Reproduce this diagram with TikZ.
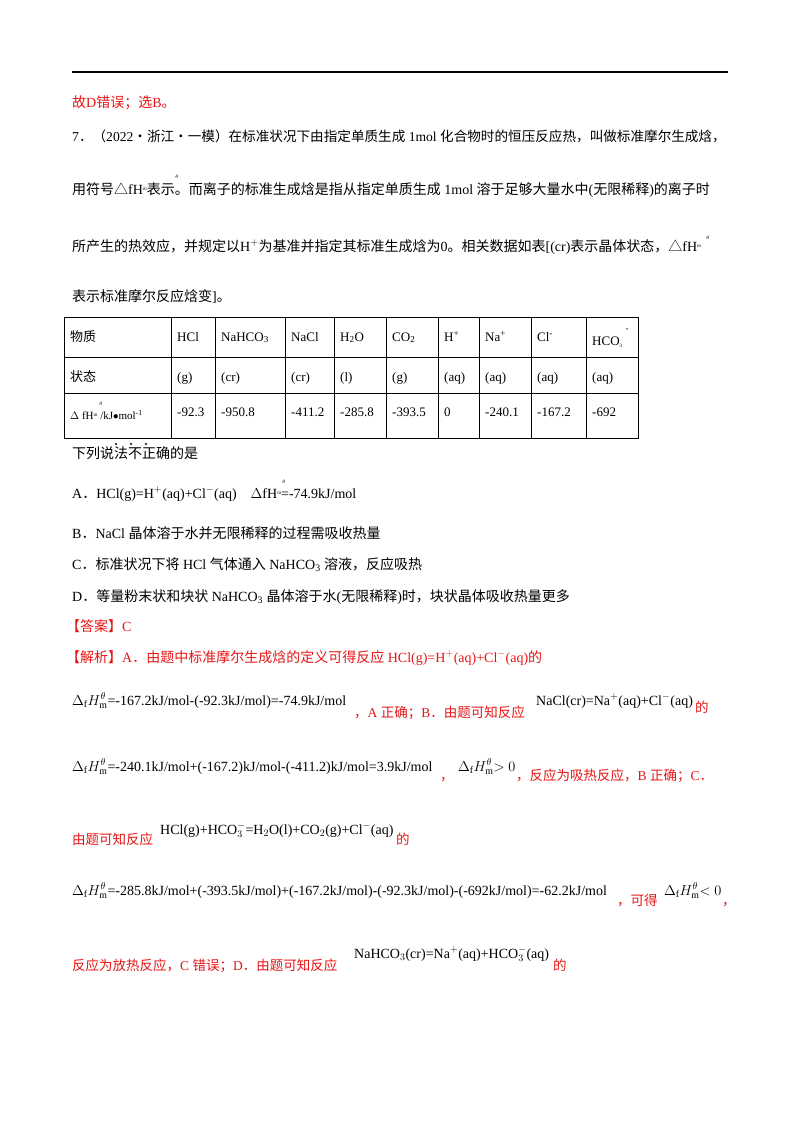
\documentclass[tikz,border=0pt]{standalone}
\usepackage{fontspec}
\setmainfont{Liberation Serif}
\newfontfamily\cjk{Noto Sans CJK SC}
\newcommand\zh[1]{{\cjk #1}}
\definecolor{ansred}{RGB}{232,20,20}
\tikzset{txt/.style={anchor=base west,inner sep=0pt,font=\fontsize{14}{16}\selectfont},
 red/.style={txt,text=ansred},
 redf/.style={txt,text=ansred,font=\fontsize{13.5}{15}\selectfont},
 fml/.style={anchor=base west,inner sep=0pt,font=\fontsize{14}{16}\selectfont},
 cell/.style={anchor=base west,inner sep=0pt,font=\fontsize{13}{15}\selectfont}}
\newcommand\dH{$\Delta_{\mathrm f}H^{\theta}_{\mathrm m}$}
\begin{document}
\begin{tikzpicture}[x=1pt,y=-1pt]
\useasboundingbox (0,0) rectangle (800,1132);
\draw[line width=1.2pt] (72,72) -- (728,72);
\node[red] (l0) at (72,107) {\zh{故}D\zh{错误；选}B\zh{。}};
\node[txt,font=\fontsize{13.6}{16}\selectfont] (l1) at (72,141) {7\zh{．（}2022\zh{·浙江·一模）在标准状况下由指定单质生成} 1mol \zh{化合物时的恒压反应热，叫做标准摩尔生成焓，}};
\node[txt] (l2) at (72,194) {\zh{用符号△}fH\raisebox{4pt}{\tiny m}\zh{表示。而离子的标准生成焓是指从指定单质生成} 1mol \zh{溶于足够大量水中}(\zh{无限稀释})\zh{的离子时}};
\node[font=\tiny,inner sep=0] (t2) at (177,177) {$\theta$};
\node[txt] (l3) at (72,251) {\zh{所产生的热效应，并规定以}H$^+$\zh{为基准并指定其标准生成焓为}0\zh{。相关数据如表}[(cr)\zh{表示晶体状态，△}fH\raisebox{4pt}{\tiny m}};
\node[font=\tiny,inner sep=0] (t3) at (708,238) {$\theta$};
\node[txt] (l4) at (72,301) {\zh{表示标准摩尔反应焓变}]\zh{。}};
% table
\draw[line width=0.9pt] (64,317) rectangle (638,438);
\foreach \y in {357,393} \draw[line width=0.9pt] (64,\y) -- (638,\y);
\foreach \x in {171,215,285,334,386,438,479,531,586} \draw[line width=0.9pt] (\x,317) -- (\x,438);
\foreach \x/\a/\b/\c in {171/HCl/(g)/-92.3, 215/NaHCO\textsubscript{3}/(cr)/-950.8, 285/NaCl/(cr)/-411.2, 334/H\textsubscript{2}O/(l)/-285.8, 386/CO\textsubscript{2}/(g)/-393.5, 438/H\textsuperscript{+}/(aq)/0, 479/Na\textsuperscript{+}/(aq)/-240.1, 531/Cl\textsuperscript{-}/(aq)/-167.2}
 {\node[cell] at (\x+6,341) {\a}; \node[cell] at (\x+6,381) {\b}; \node[cell] at (\x+6,416) {\c};}
\node[cell] (h) at (592,345) {HCO\raisebox{-2pt}{\tiny 3}};
\node[inner sep=0,font=\small] at (627,330) {-};
\node[cell] at (592,381) {(aq)}; \node[cell] at (592,416) {-692};
\node[cell] at (70,341) {\zh{物质}}; \node[cell] at (70,381) {\zh{状态}};
\node[cell,font=\fontsize{11}{13}\selectfont] at (70,419) {$\Delta$ fH\raisebox{3pt}{\tiny m} /kJ$\bullet$mol\textsuperscript{-1}};
\node[font=\tiny,inner sep=0] at (101,404) {$\theta$};
\node[txt] (l5) at (72,458) {\zh{下列说法不正确的是}};
\foreach \x in {116,131,146} \fill (\x,444) circle (1.1);
\node[txt] (a) at (72,498) {A\zh{．}HCl(g)=H$^+$(aq)+Cl$^-$(aq)\quad $\Delta$fH\raisebox{4pt}{\tiny m}=-74.9kJ/mol};
\node[font=\tiny,inner sep=0] at (284,482) {$\theta$};
\node[txt] (b) at (72,538) {B\zh{．}NaCl \zh{晶体溶于水并无限稀释的过程需吸收热量}};
\node[txt] (c) at (72,569) {C\zh{．标准状况下将} HCl \zh{气体通入} NaHCO\textsubscript{3} \zh{溶液，反应吸热}};
\node[txt] (d) at (72,601) {D\zh{．等量粉末状和块状} NaHCO\textsubscript{3} \zh{晶体溶于水}(\zh{无限稀释})\zh{时，块状晶体吸收热量更多}};
\node[red] (ans) at (66,631) {\zh{【答案】}C};
\node[red] (jx) at (66,662) {\zh{【解析】}A\zh{．由题中标准摩尔生成焓的定义可得反应} HCl(g)=H$^+$(aq)+Cl$^-$(aq)\zh{的}};
\node[fml] (f1) at (72,705) {\dH=-167.2kJ/mol-(-92.3kJ/mol)=-74.9kJ/mol};
\node[redf] (r1) at (354,717) {\zh{，}A \zh{正确；}B\zh{．由题可知反应}};
\node[fml] (f1b) at (536,705) {NaCl(cr)=Na$^+$(aq)+Cl$^-$(aq)};
\node[redf] (r1b) at (695,712) {\zh{的}};
\node[fml] (f2) at (72,771) {\dH=-240.1kJ/mol+(-167.2)kJ/mol-(-411.2)kJ/mol=3.9kJ/mol};
\node[redf] at (440,780) {\zh{，}};
\node[fml] (f2b) at (458,771) {\dH $>0$};
\node[redf] (r2) at (516,780) {\zh{，反应为吸热反应，}B \zh{正确；}C\zh{．}};
\node[redf] (r3) at (72,844) {\zh{由题可知反应}};
\node[fml] (f3) at (160,834) {HCl(g)+HCO$_3^-$=H$_2$O(l)+CO$_2$(g)+Cl$^-$(aq)};
\node[redf] at (396,844) {\zh{的}};
\node[fml] (f4) at (72,895) {\dH=-285.8kJ/mol+(-393.5kJ/mol)+(-167.2kJ/mol)-(-92.3kJ/mol)-(-692kJ/mol)=-62.2kJ/mol};
\node[redf] at (617,905) {\zh{，可得}};
\node[fml] at (664,895) {\dH $<0$};
\node[redf] at (722,905) {\zh{，}};
\node[redf] (r5) at (72,970) {\zh{反应为放热反应，}C \zh{错误；}D\zh{．由题可知反应}};
\node[fml] (f5) at (354,958) {NaHCO$_3$(cr)=Na$^+$(aq)+HCO$_3^-$(aq)};
\node[redf] at (553,970) {\zh{的}};
\end{tikzpicture}
\end{document}
